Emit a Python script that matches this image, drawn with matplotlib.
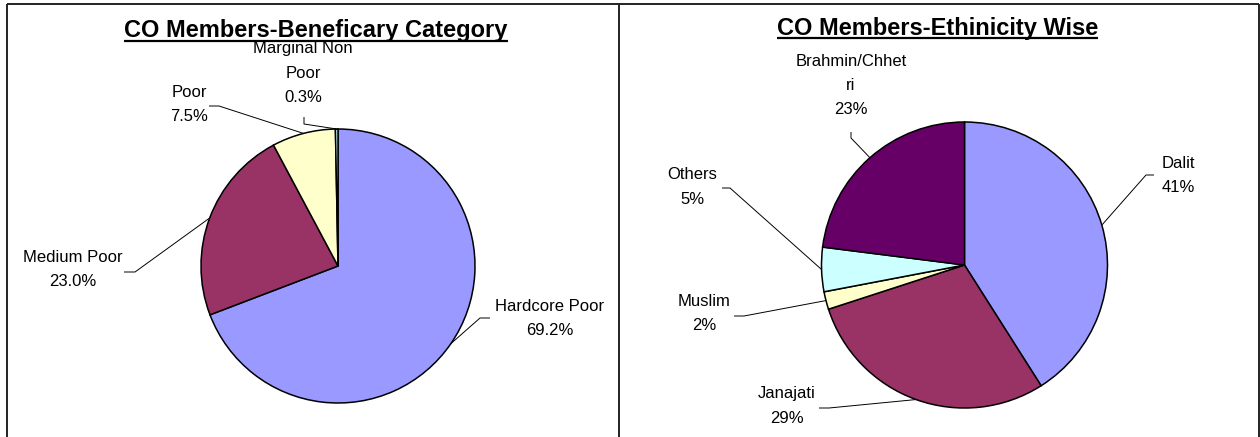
import textwrap
import numpy as np
import matplotlib
matplotlib.use("Agg")
import matplotlib.pyplot as plt

# ---------------- data ----------------
benef_categories = ["Hardcore Poor", "Medium Poor", "Poor", "Marginal Non Poor"]
benef_values = [69.2, 23.0, 7.5, 0.3]
benef_title = "CO Members-Beneficary Category"

eth_categories = ["Dalit", "Janajati", "Muslim", "Others", "Brahmin/Chhetri"]
eth_values = [41, 29, 2, 5, 23]
eth_title = "CO Members-Ethinicity Wise"

# ---------------- style / layout ----------------
W, H = 1260, 437
plt.rcParams['font.family'] = ['Liberation Sans', 'DejaVu Sans']

benef_colors = ["#9999FF", "#993366", "#FFFFCC", "#CCFFFF"]
eth_colors = ["#9999FF", "#993366", "#FFFFCC", "#CCFFFF", "#660066"]

# layout in pixel coordinates measured from the top-left corner
left_layout = dict(center=(338, 266), radius=137,
                   title_xy=(316, 36.5), underline_y=40.5,
                   labels=[(550, 318.5), (73, 269.5), (189, 104.5), (303, 73)],
                   anchors=[((490, 318), (480, 318)), ((124, 272), (135, 272)),
                            ((209, 106), (219, 106)), ((304, 117), (304, 124))],
                   fmt="{:.1f}%", spacing=0.0)
right_layout = dict(center=(964.5, 265), radius=143,
                    title_xy=(937.5, 35), underline_y=37.5,
                    labels=[(1178, 175.5), (787, 406), (704, 313.5), (692, 187), (851, 85.5)],
                    anchors=[((1154, 175), (1146, 175)), ((819, 408), (829, 408)),
                             ((734, 316), (744, 316)), ((722, 188), (730, 188)),
                             ((851, 132), (851, 138))],
                    fmt="{:.0f}%", spacing=0.0)

LABEL_FS = 12
TITLE_FS = 17
LINESP = 1.78

fig = plt.figure(figsize=(W / 100, H / 100), dpi=100)
ax = fig.add_axes([0, 0, 1, 1])


def up(y):
    return H - y


def draw_pie(values, cats, colors, lay):
    cx, cy = lay["center"]
    r = lay["radius"]
    wedges, _ = ax.pie(values, colors=colors, startangle=90, counterclock=False,
                       center=(cx, up(cy)), radius=r,
                       wedgeprops=dict(edgecolor="black", linewidth=1.1))
    for w, name, val, (lx, ly), (a0, a1) in zip(wedges, cats, values,
                                                lay["labels"], lay["anchors"]):
        mid = np.deg2rad((w.theta1 + w.theta2) / 2)
        ex = cx + r * np.cos(mid)
        ey = up(cy) + r * np.sin(mid)
        ax.plot([a0[0], a1[0], ex], [up(a0[1]), up(a1[1]), ey],
                color="black", lw=0.7, solid_capstyle="butt", zorder=3)
        txt = "\n".join(textwrap.wrap(name, 13)) + "\n" + lay["fmt"].format(val)
        ax.text(lx, up(ly), txt, ha="center", va="center", fontsize=LABEL_FS,
                linespacing=LINESP, multialignment="center")


draw_pie(benef_values, benef_categories, benef_colors, left_layout)
draw_pie(eth_values, eth_categories, eth_colors, right_layout)

ax.set_xlim(0, W)
ax.set_ylim(0, H)
ax.set_aspect("auto")
ax.axis("off")

# titles with underline
titles = []
for t, lay in ((benef_title, left_layout), (eth_title, right_layout)):
    tx, ty = lay["title_xy"]
    titles.append((ax.text(tx, up(ty), t, ha="center", va="baseline",
                           fontsize=TITLE_FS, fontweight="bold"), lay))

fig.canvas.draw()
renderer = fig.canvas.get_renderer()
inv = ax.transData.inverted()
for t, lay in titles:
    bb = t.get_window_extent(renderer)
    (x0, _), (x1, _) = inv.transform([(bb.x0, bb.y0), (bb.x1, bb.y1)])
    ax.plot([x0, x1], [up(lay["underline_y"])] * 2, color="black", lw=1.6,
            solid_capstyle="butt")

# panel borders
border = dict(color="#222222", lw=1.4, solid_capstyle="butt")
ax.plot([6.5, 6.5], [0, up(4)], **border)
ax.plot([6.5, 1258.5], [up(4), up(4)], **border)
ax.plot([619, 619], [0, up(4)], **border)
ax.plot([1258.5, 1258.5], [0, up(4)], **border)

fig.savefig("out.png", dpi=100)
